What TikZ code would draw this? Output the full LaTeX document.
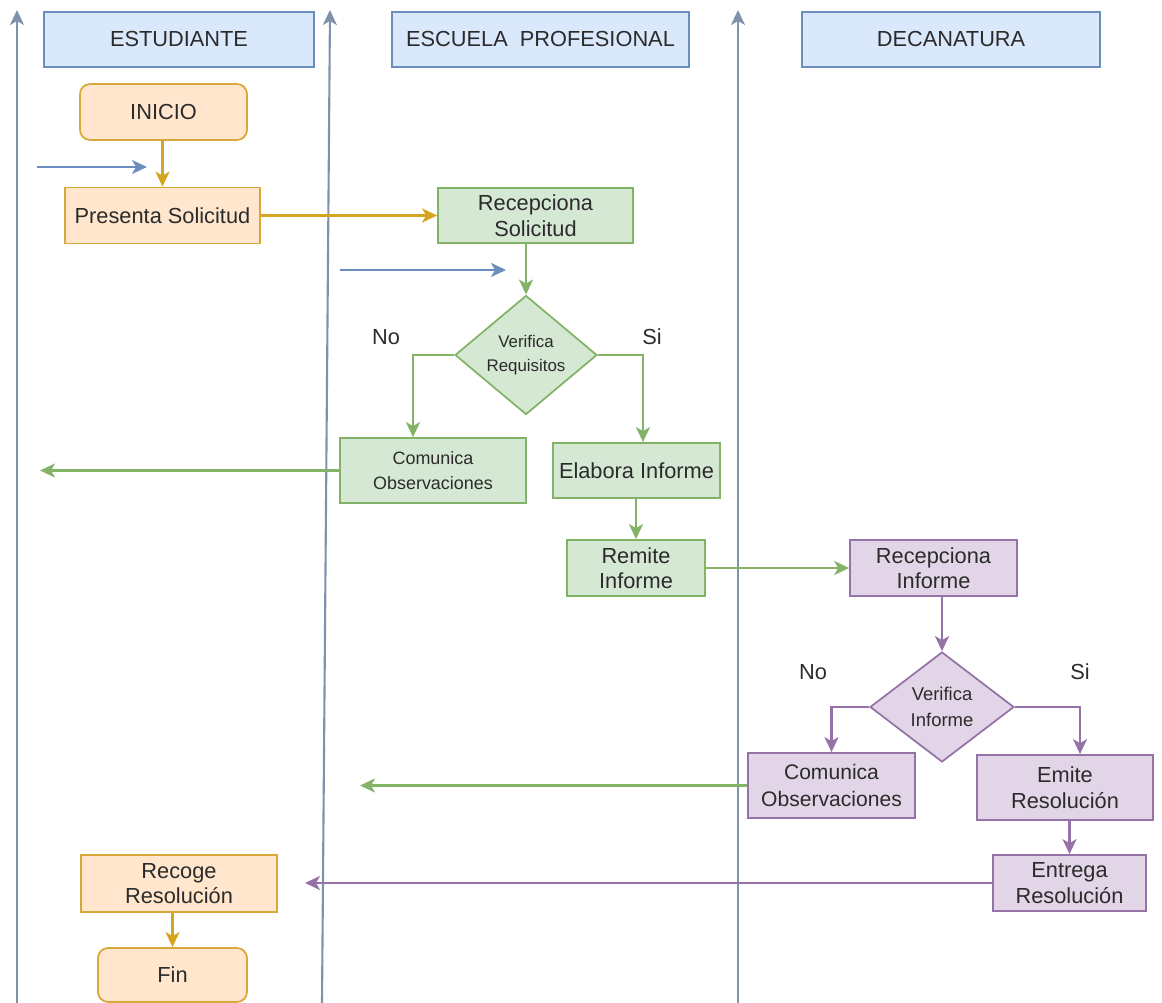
\documentclass[tikz,border=0pt]{standalone}
\usepackage{fontspec}
\setmainfont{Liberation Sans}
\usetikzlibrary{arrows.meta, shapes.geometric, positioning}

\definecolor{hdrfill}{HTML}{DAE8FC}
\definecolor{hdrline}{HTML}{6C8EBF}
\definecolor{laneline}{HTML}{8092AA}
\definecolor{peachfill}{HTML}{FFE6CC}
\definecolor{peachline}{HTML}{D6A93A}
\definecolor{goldline}{HTML}{D6A520}
\definecolor{greenfill}{HTML}{D5E8D4}
\definecolor{greenline}{HTML}{82B366}
\definecolor{purplefill}{HTML}{E1D5E7}
\definecolor{purpleline}{HTML}{9673A6}
\definecolor{txtgray}{HTML}{2B2B2B}

\begin{document}
\begin{tikzpicture}[x=0.02cm, y=-0.02cm,
  font=\fontsize{12.4}{14.5}\selectfont, text=txtgray,
  tip/.style={-{Stealth[length=3mm, width=2.8mm, inset=0.8mm]}},
  hdrbox/.style={draw=hdrline, fill=hdrfill, line width=1pt, minimum height=1.1cm, minimum width=#1},
  peachbox/.style={draw=peachline, fill=peachfill, line width=1pt, align=center, minimum width=#1, minimum height=1.12cm},
  endbox/.style={peachbox=#1, rounded corners=0.2cm},
  greenbox/.style={draw=greenline, fill=greenfill, line width=1pt, align=center, minimum width=#1, minimum height=1.1cm},
  purplebox/.style={draw=purpleline, fill=purplefill, line width=1pt, align=center, minimum width=#1, minimum height=1.12cm},
  greendec/.style={diamond, draw=greenline, fill=greenfill, line width=1pt, align=center, inner sep=0pt, minimum width=2.84cm, minimum height=2.2cm},
  purpledec/.style={diamond, draw=purpleline, fill=purplefill, line width=1pt, align=center, inner sep=0pt, minimum width=2.88cm, minimum height=2.2cm},
  lanearrow/.style={draw=laneline, line width=1.2pt, tip},
  bluearrow/.style={draw=hdrline, line width=1.2pt, tip},
  goldarrow/.style={draw=goldline, line width=1.3pt, tip},
  greenarrow/.style={draw=greenline, line width=1.3pt, tip},
  purplearrow/.style={draw=purpleline, line width=1.3pt, tip}]
  \useasboundingbox (0,0) rectangle (1162,1003);

  % Lanes
  \coordinate (l1b) at (17,1003);   \coordinate (l1t) at (17,10);
  \coordinate (l2b) at (322,1003);  \coordinate (l2t) at (330,10);
  \coordinate (l3b) at (738,1003);  \coordinate (l3t) at (738,10);
  \draw[lanearrow] (l1b) -- (l1t);
  \draw[lanearrow] (l2b) -- (l2t);
  \draw[lanearrow] (l3b) -- (l3t);

  % Headers
  \node[hdrbox=5.4cm]  (hEst) at (179,39.5)   {ESTUDIANTE};
  \node[hdrbox=5.94cm] (hEsc) at (540.5,39.5) {ESCUELA\ \ PROFESIONAL};
  \node[hdrbox=5.96cm] (hDec) at (951,39.5)   {DECANATURA};

  % Estudiante
  \node[endbox=3.34cm]   (inicio)   at (163.5,112)   {INICIO};
  \node[peachbox=3.9cm]  (presenta) at (162.5,215.5) {Presenta Solicitud};
  \node[peachbox=3.92cm, minimum height=1.14cm] (recoge) at (179,883.5) {Recoge\\Resolución};
  \node[endbox=2.98cm, minimum height=1.08cm]   (fin)    at (172.5,975)  {Fin};

  % Escuela profesional
  \node[greenbox=3.9cm] (recepSol) at (535.5,215.5) {Recepciona\\Solicitud};
  \node[greendec, font=\fontsize{9.6}{14}\selectfont] (verReq) at (526,355) {Verifica\\Requisitos};
  \node[greenbox=3.72cm, minimum height=1.3cm, font=\fontsize{10.2}{14}\selectfont] (comObs1) at (433,470.5) {Comunica\\Observaciones};
  \node[greenbox=3.34cm] (elabora) at (636.5,470.5) {Elabora Informe};
  \node[greenbox=2.76cm, minimum height=1.12cm] (remite) at (636,568) {Remite\\Informe};
  \node (noA) at (386,337) {No};
  \node (siA) at (652,337) {Si};

  % Decanatura
  \node[purplebox=3.34cm] (recepInf) at (933.5,568) {Recepciona\\Informe};
  \node[purpledec, font=\fontsize{10.5}{14.5}\selectfont] (verInf) at (942,707) {Verifica\\Informe};
  \node[purplebox=3.34cm, minimum height=1.3cm, font=\fontsize{12}{15}\selectfont] (comObs2) at (831.5,785.5) {Comunica\\Observaciones};
  \node[purplebox=3.52cm, minimum height=1.3cm, font=\fontsize{12.4}{15}\selectfont] (emite) at (1065,787.5) {Emite\\Resolución};
  \node[purplebox=3.06cm] (entrega) at (1069.5,883) {Entrega\\Resolución};
  \node (noB) at (813,672)  {No};
  \node (siB) at (1080,672) {Si};

  % Free ends
  \coordinate (in1a) at (37,167);   \coordinate (in1b) at (147,167);
  \coordinate (in2a) at (340,270);  \coordinate (in2b) at (506,270);
  \coordinate (back1) at (40,470.5);
  \coordinate (back2) at (360,785.5);
  \coordinate (back3) at (305,883);

  % Flow
  \draw[bluearrow] (in1a) -- (in1b);
  \draw[bluearrow] (in2a) -- (in2b);
  \draw[goldarrow] (inicio.south -| presenta.north) -- (presenta.north);
  \draw[goldarrow] (presenta) -- (recepSol);
  \draw[greenarrow] (verReq.north |- recepSol.south) -- (verReq.north);
  \draw[greenarrow] (verReq.west) -| ([xshift=-0.4cm]comObs1.north);
  \draw[greenarrow] (verReq.east) -| ([xshift=0.13cm]elabora.north);
  \draw[greenarrow] (comObs1.west) -- (back1);
  \draw[greenarrow] (elabora.south -| remite.north) -- (remite.north);
  \draw[greenarrow] (remite) -- (recepInf);
  \draw[purplearrow] (verInf.north |- recepInf.south) -- (verInf.north);
  \draw[purplearrow] (verInf.west) -| (comObs2.north);
  \draw[purplearrow] (verInf.east) -| ([xshift=0.3cm]emite.north);
  \draw[purplearrow] (emite.south -| entrega.north) -- (entrega.north);
  \draw[greenarrow] (comObs2.west) -- (back2);
  \draw[purplearrow] (entrega.west) -- (back3);
  \draw[goldarrow] (recoge.south -| fin.north) -- (fin.north);
\end{tikzpicture}
\end{document}
